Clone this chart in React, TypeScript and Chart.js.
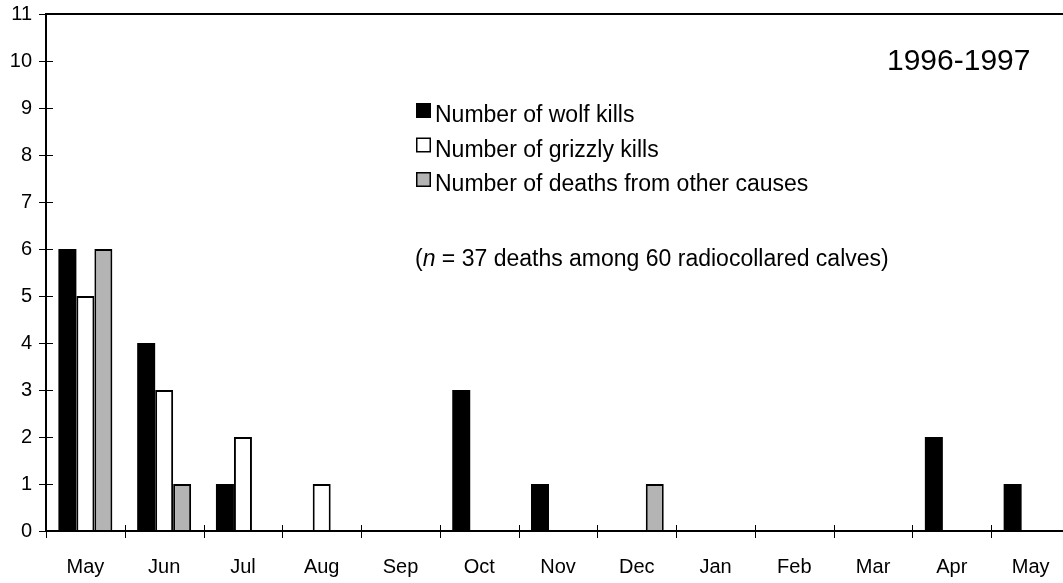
import React, { useEffect, useRef } from "react";
import { Chart, registerables } from "chart.js";

Chart.register(...registerables);

const months = ["May", "Jun", "Jul", "Aug", "Sep", "Oct", "Nov", "Dec", "Jan", "Feb", "Mar", "Apr", "May"];
const wolfKills = [6, 4, 1, 0, 0, 3, 1, 0, 0, 0, 0, 2, 1];
const grizzlyKills = [5, 3, 2, 1, 0, 0, 0, 0, 0, 0, 0, 0, 0];
const otherDeaths = [6, 1, 0, 0, 0, 0, 0, 1, 0, 0, 0, 0, 0];
const seriesLabels = ["Number of wolf kills", "Number of grizzly kills", "Number of deaths from other causes"];
const seriesColors = ["#000000", "#ffffff", "#b4b4b4"];
const yMin = 0;
const yMax = 11;
const periodTitle = "1996-1997";
const notePrefix = "(";
const noteItalic = "n";
const noteRest = " = 37 deaths among 60 radiocollared calves)";

const FONT = '"Liberation Sans", Arial, sans-serif';

const axesPlugin = {
  id: "customAxes",
  afterDatasetsDraw(chart: any) {
    const ctx = chart.ctx;
    const { left, right, top, bottom } = chart.chartArea;
    const xs = chart.scales.x;
    const ys = chart.scales.y;
    ctx.save();
    ctx.strokeStyle = "#000";
    ctx.lineWidth = 2;
    ctx.beginPath();
    ctx.moveTo(left, top);
    ctx.lineTo(right, top);
    ctx.moveTo(left, top - 1);
    ctx.lineTo(left, bottom + 1);
    ctx.moveTo(left - 1, bottom);
    ctx.lineTo(right, bottom);
    ctx.stroke();
    ctx.lineWidth = 1;
    ctx.beginPath();
    ys.ticks.forEach((t: any) => {
      const y = Math.round(ys.getPixelForValue(t.value)) + 0.5;
      ctx.moveTo(left - 7, y);
      ctx.lineTo(left + 7, y);
    });
    const n = months.length;
    const w = (xs.right - xs.left) / n;
    for (let i = 0; i <= n; i++) {
      const x = Math.round(xs.left + i * w) + 0.5;
      ctx.moveTo(x, bottom - 6);
      ctx.lineTo(x, bottom + 7);
    }
    ctx.stroke();
    ctx.restore();
  },
  afterDraw(chart: any) {
    const ctx = chart.ctx;
    ctx.save();
    ctx.font = `23px ${FONT}`;
    ctx.textBaseline = "alphabetic";
    ctx.textAlign = "left";
    const baselines = [122, 156.5, 191];
    seriesLabels.forEach((lab, i) => {
      const by = baselines[i] - 19;
      ctx.fillStyle = seriesColors[i];
      ctx.fillRect(416, by, 15, 15);
      ctx.strokeStyle = "#000";
      ctx.lineWidth = 1.5;
      ctx.strokeRect(416.75, by + 0.75, 13.5, 13.5);
      ctx.fillStyle = "#000";
      ctx.fillText(lab, 435, baselines[i]);
    });
    let x = 415;
    const nb = 265.5;
    ctx.font = `23px ${FONT}`;
    ctx.fillText(notePrefix, x, nb);
    x += ctx.measureText(notePrefix).width;
    ctx.font = `italic 23px ${FONT}`;
    ctx.fillText(noteItalic, x, nb);
    x += ctx.measureText(noteItalic).width;
    ctx.font = `23px ${FONT}`;
    ctx.fillText(noteRest, x, nb);
    ctx.font = `30px ${FONT}`;
    ctx.fillText(periodTitle, 887, 70);
    ctx.restore();
  },
};

export default function App() {
  const ref = useRef<HTMLCanvasElement>(null);
  useEffect(() => {
    if (!ref.current) return;
    const chart = new Chart(ref.current, {
      type: "bar",
      data: {
        labels: months,
        datasets: [
          { label: seriesLabels[0], data: wolfKills, backgroundColor: seriesColors[0], borderColor: "#000", borderWidth: 0 },
          { label: seriesLabels[1], data: grizzlyKills, backgroundColor: seriesColors[1], borderColor: "#000", borderWidth: 2 },
          { label: seriesLabels[2], data: otherDeaths, backgroundColor: seriesColors[2], borderColor: "#000", borderWidth: 2 },
        ],
      },
      options: {
        responsive: false,
        animation: false,
        devicePixelRatio: 1,
        layout: { padding: { top: 14, right: 0, bottom: 0, left: 0 } },
        datasets: { bar: { categoryPercentage: 0.685, barPercentage: 1 } },
        plugins: { legend: { display: false }, tooltip: { enabled: false }, title: { display: false } },
        scales: {
          x: {
            grid: { display: false, offset: true },
            border: { display: false },
            ticks: { color: "#000", font: { family: FONT, size: 20 }, padding: 16, maxRotation: 0, autoSkip: false },
            afterFit: (s: any) => { s.height = 52; s.paddingLeft = 0; s.paddingRight = 0; },
          },
          y: {
            min: yMin,
            max: yMax,
            grid: { display: false },
            border: { display: false },
            ticks: { stepSize: 1, color: "#000", font: { family: FONT, size: 20 }, padding: 6 },
            afterFit: (s: any) => { s.width = 46; s.paddingTop = 0; s.paddingBottom = 0; },
          },
        },
      },
      plugins: [axesPlugin],
    });
    return () => chart.destroy();
  }, []);
  return (
    <div style={{ position: "absolute", left: 0, top: 0, width: 1063, height: 583, overflow: "hidden", background: "#fff" }}>
      <canvas ref={ref} width={1070} height={583} style={{ width: 1070, height: 583, display: "block" }} />
    </div>
  );
}
